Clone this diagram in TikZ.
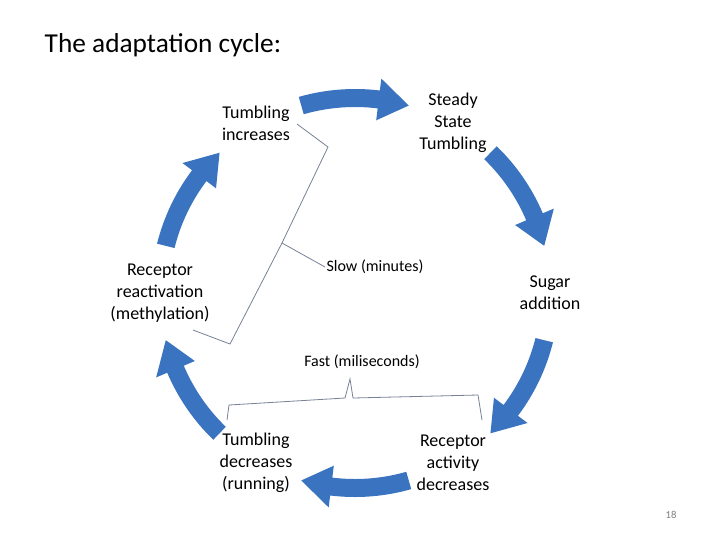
\documentclass[tikz,border=0pt]{standalone}
\usepackage{fontspec}
\setmainfont{Carlito}
\definecolor{arrowblue}{RGB}{58,116,192}
\definecolor{bracegray}{RGB}{120,130,150}
\newcommand{\cyclearrow}[2]{%
  \fill[arrowblue] (#1:204) arc[start angle=#1, end angle=#2+9, radius=204]
    -- (#2+9:216) -- (#2:195) -- (#2+9:174) -- (#2+9:186)
    arc[start angle=#2+9, end angle=#1, radius=186] -- cycle;}
\tikzset{lbl/.style={align=center, font=\fontsize{13.5}{16.5}\selectfont, inner sep=1pt},
  brace/.style={draw=bracegray, line width=0.6pt}}
\begin{document}
\begin{tikzpicture}[x=0.75pt,y=-0.75pt]
\useasboundingbox (0,0) rectangle (720,540);
\fill[white] (0,0) rectangle (720,540);
\node[anchor=west, font=\fontsize{20.5}{24}\selectfont] (title) at (40,45) {The adaptation cycle:};
\begin{scope}[shift={(355,293)}, yscale=-1]
\cyclearrow{106}{74}
\cyclearrow{46}{14}
\cyclearrow{-14}{-46}
\cyclearrow{-74}{-106}
\cyclearrow{-134}{-166}
\cyclearrow{166}{134}
\end{scope}
\node[lbl] (ti) at (256,123) {Tumbling\\increases};
\node[lbl] (ss) at (453,123) {Steady\\State\\Tumbling};
\node[lbl] (sa) at (550,293) {Sugar\\addition};
\node[lbl] (ra) at (453,463) {Receptor\\activity\\decreases};
\node[lbl] (td) at (256,463) {Tumbling\\decreases\\(running)};
\node[lbl] (rr) at (160,293) {Receptor\\reactivation\\(methylation)};
\node[lbl, font=\fontsize{12}{14}\selectfont] (slow) at (375,267) {Slow (minutes)};
\node[lbl, font=\fontsize{12}{14}\selectfont] (fast) at (362,362) {Fast (miliseconds)};
\coordinate (stip) at (282,243);
\coordinate (ftip) at (350,379);
\draw[brace] (297,124) -- (328,147) -- (stip) -- (slow.west);
\draw[brace] (stip) -- (230,344) -- (193,330);
\draw[brace] (227,420) -- (229,405) -- (345,398) -- (ftip) -- (353,398) -- (478,395) -- (482,420);
\node[font=\fontsize{8}{10}\selectfont, text=gray] (pg) at (671,515) {18};
\end{tikzpicture}
\end{document}
